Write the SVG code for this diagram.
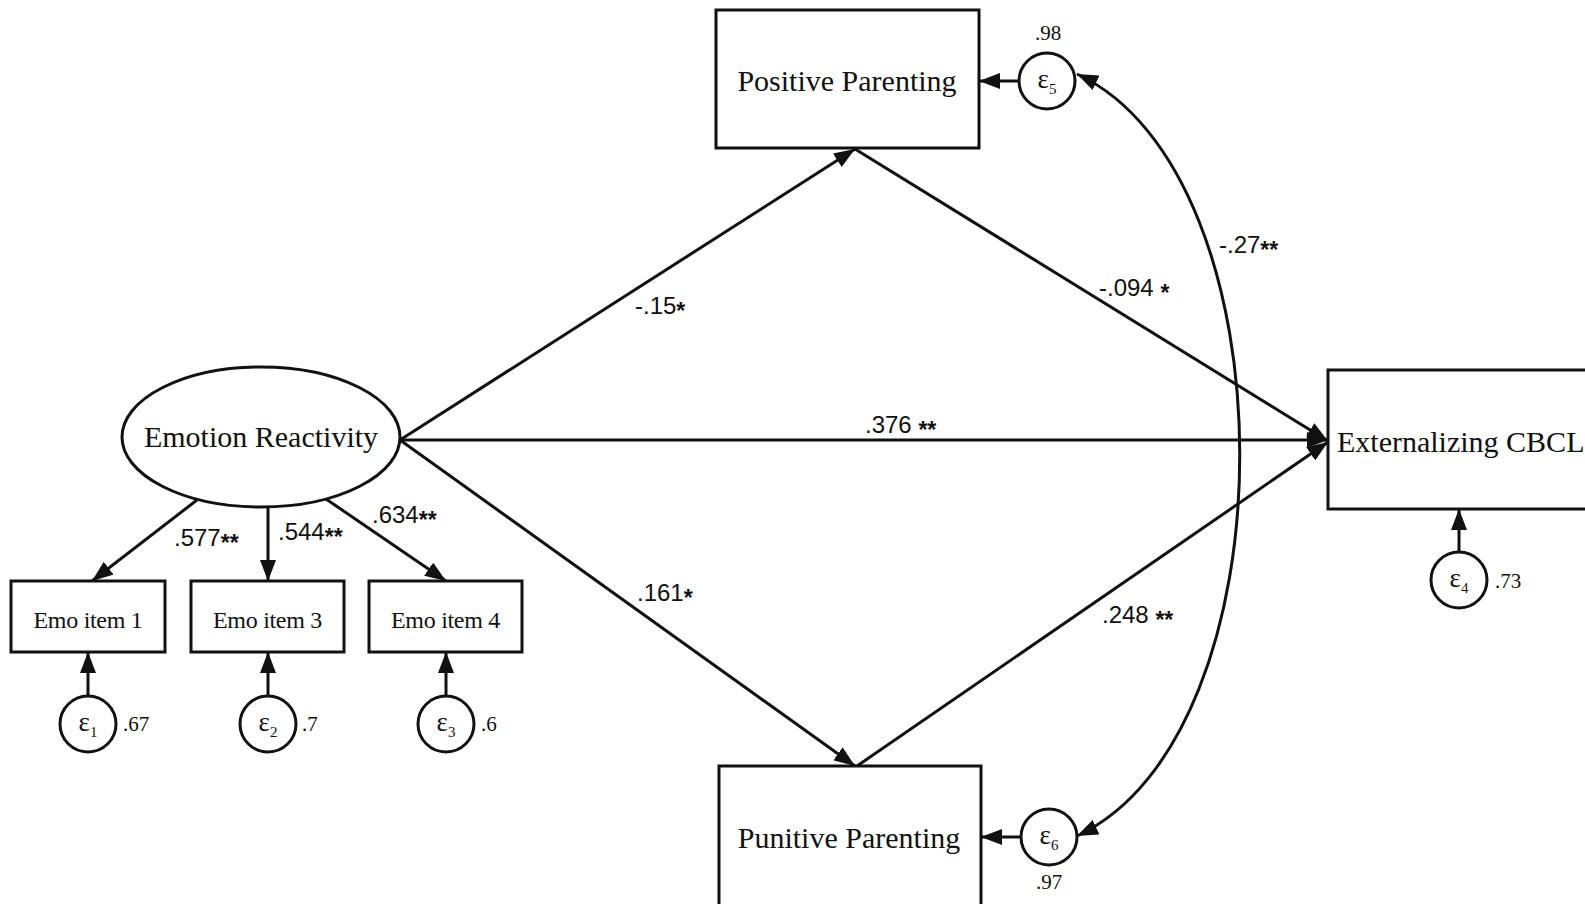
<svg xmlns="http://www.w3.org/2000/svg" width="1585" height="904" viewBox="0 0 1585 904">
  <style>
    .box { fill: #fff; stroke: #111; stroke-width: 3; }
    .err { fill: #fff; stroke: #111; stroke-width: 3; }
    .edge { fill: none; stroke: #111; stroke-width: 3; }
    .lbl { font-family: "Liberation Serif", "Times New Roman", serif; fill: #111; }
    .big { font-size: 30px; }
    .item { font-size: 24px; letter-spacing: -0.3px; }
    .eps { font-size: 27px; }
    .sub { font-size: 15px; }
    .var { font-family: "Liberation Serif", "Times New Roman", serif; font-size: 21px; fill: #111; }
    .coef { font-family: "Liberation Sans", Arial, sans-serif; font-size: 24px; fill: #111; }
    .star { font-size: 23px; font-weight: bold; }
  </style>
  <defs>
    <marker id="head" markerUnits="userSpaceOnUse" markerWidth="22" markerHeight="16" refX="21" refY="8" orient="auto-start-reverse">
      <path d="M0,0 L21,8 L0,16 z" fill="#111"/>
    </marker>
  </defs>
  <rect width="1585" height="904" fill="#fff"/>

  <!-- connectors -->
  <g id="connectors">
    <!-- structural paths -->
    <line class="edge" x1="400" y1="440" x2="855" y2="149" marker-end="url(#head)"/>
    <line class="edge" x1="855" y1="149" x2="1328" y2="441" marker-end="url(#head)"/>
    <line class="edge" x1="400" y1="440" x2="1328" y2="440" marker-end="url(#head)"/>
    <line class="edge" x1="400" y1="440" x2="855" y2="766" marker-end="url(#head)"/>
    <line class="edge" x1="857" y1="766" x2="1328" y2="442" marker-end="url(#head)"/>
    <!-- loadings -->
    <line class="edge" x1="197" y1="500" x2="92" y2="581" marker-end="url(#head)"/>
    <line class="edge" x1="268" y1="506" x2="268" y2="581" marker-end="url(#head)"/>
    <line class="edge" x1="326" y1="499" x2="446" y2="581" marker-end="url(#head)"/>
    <!-- error terms -->
    <line class="edge" x1="88" y1="696" x2="88" y2="652" marker-end="url(#head)"/>
    <line class="edge" x1="268" y1="696" x2="268" y2="652" marker-end="url(#head)"/>
    <line class="edge" x1="446" y1="696" x2="446" y2="652" marker-end="url(#head)"/>
    <line class="edge" x1="1459" y1="552" x2="1459" y2="509" marker-end="url(#head)"/>
    <line class="edge" x1="1019" y1="81" x2="979" y2="81" marker-end="url(#head)"/>
    <line class="edge" x1="1021" y1="837" x2="981" y2="837" marker-end="url(#head)"/>
    <!-- residual covariance -->
    <path class="edge" d="M1077,74 C1294,175 1294,735 1077,836" marker-start="url(#head)" marker-end="url(#head)"/>
  </g>

  <!-- latent factor -->
  <g id="emotion-reactivity">
    <ellipse class="box" cx="261" cy="437" rx="139" ry="70"/>
    <text class="lbl big" x="261" y="447" text-anchor="middle">Emotion Reactivity</text>
  </g>

  <!-- indicators -->
  <g id="emo-item-1">
    <rect class="box" x="11" y="581" width="154" height="71"/>
    <text class="lbl item" x="88" y="628" text-anchor="middle">Emo item 1</text>
  </g>
  <g id="emo-item-3">
    <rect class="box" x="191" y="581" width="153" height="71"/>
    <text class="lbl item" x="267.5" y="628" text-anchor="middle">Emo item 3</text>
  </g>
  <g id="emo-item-4">
    <rect class="box" x="369" y="581" width="153" height="71"/>
    <text class="lbl item" x="445.5" y="628" text-anchor="middle">Emo item 4</text>
  </g>

  <!-- mediators and outcome -->
  <g id="positive-parenting">
    <rect class="box" x="716" y="10" width="263" height="138"/>
    <text class="lbl big" x="847" y="91" text-anchor="middle">Positive Parenting</text>
  </g>
  <g id="punitive-parenting">
    <rect class="box" x="719" y="766" width="262" height="150"/>
    <text class="lbl big" x="849" y="848" text-anchor="middle">Punitive Parenting</text>
  </g>
  <g id="externalizing-cbcl">
    <rect class="box" x="1328" y="370" width="280" height="139"/>
    <text class="lbl big" x="1337" y="452">Externalizing CBCL</text>
  </g>

  <!-- error terms -->
  <g id="e1">
    <circle class="err" cx="88" cy="724" r="28"/>
    <text class="lbl eps" x="88" y="731" text-anchor="middle">ε<tspan class="sub" dy="6">1</tspan></text>
    <text class="var" x="123" y="731">.67</text>
  </g>
  <g id="e2">
    <circle class="err" cx="268" cy="724" r="28"/>
    <text class="lbl eps" x="268" y="731" text-anchor="middle">ε<tspan class="sub" dy="6">2</tspan></text>
    <text class="var" x="302" y="731">.7</text>
  </g>
  <g id="e3">
    <circle class="err" cx="446" cy="724" r="28"/>
    <text class="lbl eps" x="446" y="731" text-anchor="middle">ε<tspan class="sub" dy="6">3</tspan></text>
    <text class="var" x="481" y="731">.6</text>
  </g>
  <g id="e4">
    <circle class="err" cx="1459" cy="580" r="28"/>
    <text class="lbl eps" x="1459" y="587" text-anchor="middle">ε<tspan class="sub" dy="6">4</tspan></text>
    <text class="var" x="1495" y="588">.73</text>
  </g>
  <g id="e5">
    <circle class="err" cx="1047" cy="81" r="28"/>
    <text class="lbl eps" x="1047" y="88" text-anchor="middle">ε<tspan class="sub" dy="6">5</tspan></text>
    <text class="var" x="1048" y="40" text-anchor="middle">.98</text>
  </g>
  <g id="e6">
    <circle class="err" cx="1049" cy="837" r="28"/>
    <text class="lbl eps" x="1049" y="844" text-anchor="middle">ε<tspan class="sub" dy="6">6</tspan></text>
    <text class="var" x="1049" y="889" text-anchor="middle">.97</text>
  </g>

  <!-- path coefficients -->
  <g id="coefficients">
    <text class="coef" x="635" y="314">-.15<tspan class="star" dy="5">*</tspan></text>
    <text class="coef" x="1099" y="296">-.094 <tspan class="star" dy="5">*</tspan></text>
    <text class="coef" x="1219" y="253">-.27<tspan class="star" dy="5">**</tspan></text>
    <text class="coef" x="865" y="433">.376 <tspan class="star" dy="5">**</tspan></text>
    <text class="coef" x="637" y="601">.161<tspan class="star" dy="5">*</tspan></text>
    <text class="coef" x="1102" y="623">.248 <tspan class="star" dy="5">**</tspan></text>
    <text class="coef" x="174" y="546">.577<tspan class="star" dy="5">**</tspan></text>
    <text class="coef" x="278" y="540">.544<tspan class="star" dy="5">**</tspan></text>
    <text class="coef" x="372" y="523">.634<tspan class="star" dy="5">**</tspan></text>
  </g>
</svg>
